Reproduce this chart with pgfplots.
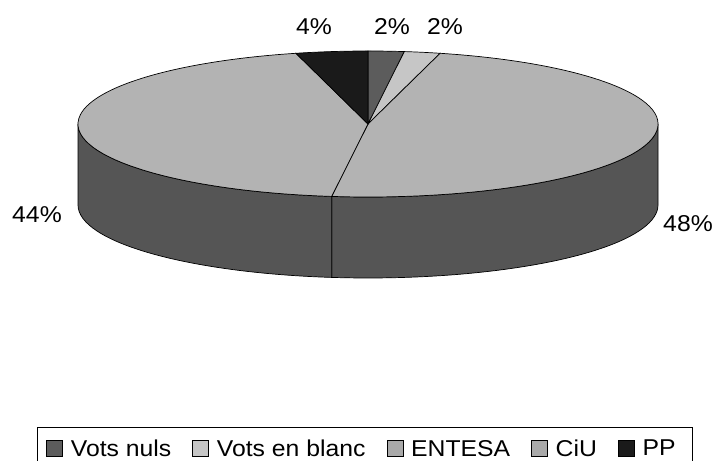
\documentclass[border=0pt]{standalone}
\usepackage{pgfplots}
\usepackage{pgfplotstable}
\pgfplotsset{compat=1.18}
\usepackage{fontspec}
\setmainfont{Liberation Sans}
\newfontfamily\chartfont[FakeStretch=1.08]{Liberation Sans}
\definecolor{cnuls}{HTML}{5C5C5C}
\definecolor{cblanc}{HTML}{C6C6C6}
\definecolor{cmain}{HTML}{B3B3B3}
\definecolor{cwall}{HTML}{555555}
\definecolor{cpp}{HTML}{1A1A1A}
\definecolor{legmain}{HTML}{A9A9A9}

\pgfplotstableread{
name value
nuls 2
blanc 2
entesa 48
ciu 44
pp 4
}\piedata
\pgfplotstablegetelem{0}{value}\of\piedata\let\Vnuls\pgfplotsretval%
\pgfplotstablegetelem{1}{value}\of\piedata\let\Vblanc\pgfplotsretval%
\pgfplotstablegetelem{2}{value}\of\piedata\let\Ventesa\pgfplotsretval%
\pgfplotstablegetelem{3}{value}\of\piedata\let\Vciu\pgfplotsretval%
\pgfplotstablegetelem{4}{value}\of\piedata\let\Vpp\pgfplotsretval%
\pgfmathsetmacro\Aa{90}%
\pgfmathsetmacro\Ab{\Aa-3.6*\Vnuls}%
\pgfmathsetmacro\Ac{\Ab-3.6*\Vblanc}%
\pgfmathsetmacro\Ad{\Ac-3.6*\Ventesa}%
\pgfmathsetmacro\Ae{\Ad-3.6*\Vciu}%
\pgfmathsetmacro\Af{\Ae-3.6*\Vpp}%

\newcommand\topslice[3]{%
  \fill[#1, draw=black, line width=0.7bp] (axis cs:368,337) --
    (axis cs:{368+290*cos(#2)},{337+73*sin(#2)})
    arc[start angle=#2, end angle=#3, x radius=290bp, y radius=73bp] -- cycle;}
\newcommand\wall[3]{%
  \fill[#1, draw=black, line width=0.7bp]
    (axis cs:{368+290*cos(#2)},{337+73*sin(#2)})
    arc[start angle=#2, end angle=#3, x radius=290bp, y radius=73bp]
    -- ++(0bp,-81bp)
    arc[start angle=#3, end angle=#2, x radius=290bp, y radius=73bp] -- cycle;}

\begin{document}
\begin{tikzpicture}
\useasboundingbox (0,0) rectangle (717bp,461bp);
\clip (0,0) rectangle (717bp,461bp);
\begin{pgfinterruptboundingbox}
\begin{axis}[
  at={(0,0)}, anchor=south west,
  hide axis, scale only axis, width=717bp, height=461bp,
  xmin=0, xmax=717, ymin=0, ymax=461, enlargelimits=false, clip=false,
  legend columns=5,
  legend image code/.code={\draw[#1, draw=black, line width=0.6bp] (0bp,-8bp) rectangle (16bp,8bp);},
  legend style={at={(0.509,0.073)}, anchor=north, draw=black, line width=0.8bp,
    font=\chartfont\fontsize{23}{26}\selectfont, inner xsep=9bp, inner ysep=10bp,
    /tikz/every even column/.append style={column sep=13bp},
    nodes={inner xsep=8bp}},
]
\addlegendimage{fill=cnuls}
\addlegendimage{fill=cblanc}
\addlegendimage{fill=legmain}
\addlegendimage{fill=legmain}
\addlegendimage{fill=cpp}
\wall{cwall}{0}{\Ad}
\wall{cwall}{\Ad}{-180}
\topslice{cnuls}{\Aa}{\Ab}
\topslice{cblanc}{\Ab}{\Ac}
\topslice{cmain}{\Ac}{\Ad}
\topslice{cmain}{\Ad}{\Ae}
\topslice{cpp}{\Ae}{\Af}
\begin{scope}[font=\chartfont\fontsize{23}{26}\selectfont]
\node[anchor=base, inner sep=0pt] at (axis cs:314,426) {4\%};
\node[anchor=base, inner sep=0pt] at (axis cs:392,426) {2\%};
\node[anchor=base, inner sep=0pt] at (axis cs:445,426) {2\%};
\node[anchor=base, inner sep=0pt] at (axis cs:37,238) {44\%};
\node[anchor=base, inner sep=0pt] at (axis cs:688,229) {48\%};
\end{scope}
\legend{Vots nuls, Vots en blanc, ENTESA, CiU, PP}
\end{axis}
\end{pgfinterruptboundingbox}
\end{tikzpicture}
\end{document}
